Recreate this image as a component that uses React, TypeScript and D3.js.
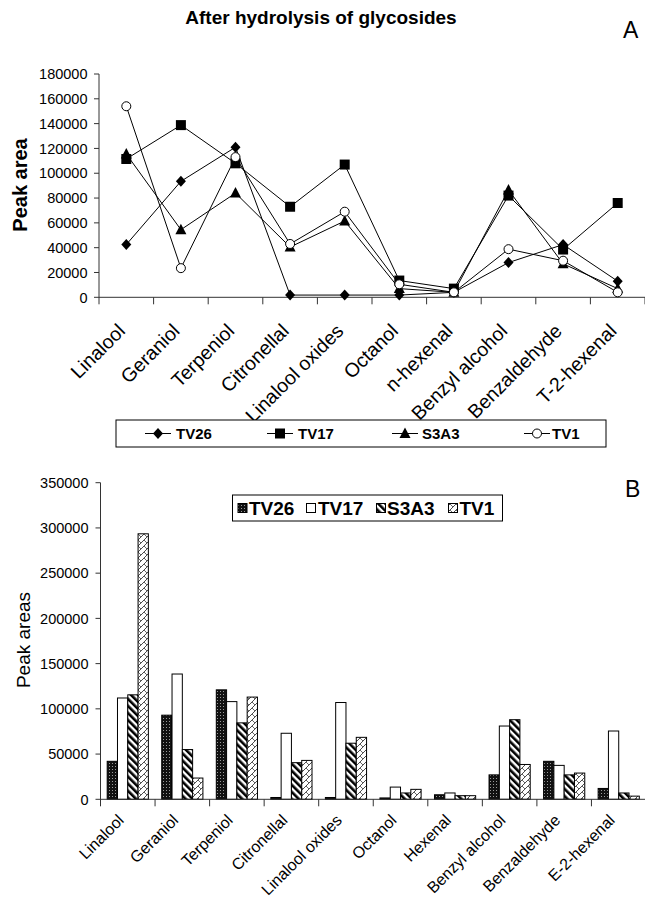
import React from 'react';
import * as d3 from 'd3';

// series
const seriesNames = ['TV26', 'TV17', 'S3A3', 'TV1'];

// panel A (lines)
const categoriesA = ['Linalool', 'Geraniol', 'Terpeniol', 'Citronellal', 'Linalool oxides',
    'Octanol', 'n-hexenal', 'Benzyl alcohol', 'Benzaldehyde', 'T-2-hexenal'];
const tv26A = [42500, 93500, 121000, 1800, 1800, 1800, 4000, 28000, 42500, 13000];
const tv17A = [111500, 138800, 108000, 73000, 107000, 13500, 7000, 82000, 38500, 76000];
const s3a3A = [115500, 54500, 84000, 40500, 61500, 7000, 4000, 86500, 27000, 7000];
const tv1A = [154000, 23500, 113000, 43000, 69000, 10500, 4000, 38800, 29500, 4000];
const ticksA = [0, 20000, 40000, 60000, 80000, 100000, 120000, 140000, 160000, 180000];

// panel B (bars)
const categoriesB = ['Linalool', 'Geraniol', 'Terpeniol', 'Citronellal', 'Linalool oxides',
    'Octanol', 'Hexenal', 'Benzyl alcohol', 'Benzaldehyde', 'E-2-hexenal'];
const tv26B = [42000, 93000, 121000, 2000, 2000, 1500, 5000, 27000, 42000, 12000];
const tv17B = [112000, 138500, 108000, 73000, 107000, 13500, 7000, 81000, 37500, 75500];
const s3a3B = [115500, 55000, 84500, 40500, 62000, 7000, 4000, 88000, 27000, 7000];
const tv1B = [293500, 23500, 113000, 43000, 68500, 11000, 4000, 38500, 29000, 3500];
const ticksB = [0, 50000, 100000, 150000, 200000, 250000, 300000, 350000];

const FONT = '"Liberation Sans", Arial, sans-serif';

function marker(kind: string, x: number, y: number, key?: string) {
    const t = `translate(${x},${y})`;
    if (kind === 'diamond') return <path key={key} transform={t} d="M0,-5.5L5,0L0,5.5L-5,0Z" fill="#000" />;
    if (kind === 'square') return <path key={key} transform={t} d={d3.symbol(d3.symbolSquare, 100)() as string} fill="#000" />;
    if (kind === 'triangle') return <path key={key} transform={t} d="M0,-6L5.5,4.5L-5.5,4.5Z" fill="#000" />;
    return <circle key={key} cx={x} cy={y} r={4.5} fill="#fff" stroke="#000" strokeWidth={1} />;
}

const markerKinds = ['diamond', 'square', 'triangle', 'circle'];
const fills = ['url(#stipple)', '#fff', 'url(#stripes)', 'url(#hatch)'];

export default function App() {
    // ---- panel A
    const xA = d3.scaleBand<string>().domain(categoriesA).range([99, 645]);
    const yA = d3.scaleLinear().domain([0, 180000]).range([297.3, 74]);
    const cxA = (i: number) => (xA(categoriesA[i]) as number) + xA.bandwidth() / 2;
    const lineA = d3.line<number>().x((d, i) => cxA(i)).y(d => yA(d));
    const linesA = [tv26A, tv17A, s3a3A, tv1A];

    // ---- panel B
    const xB = d3.scaleBand<string>().domain(categoriesB).range([100.5, 646]);
    const yB = d3.scaleLinear().domain([0, 350000]).range([799.3, 482.7]);
    const xInner = d3.scaleBand<string>().domain(seriesNames)
        .range([0, xB.bandwidth()]).paddingOuter(0.65);
    const barsB = [tv26B, tv17B, s3a3B, tv1B];

    const legendA = [{ m: 158, t: 176 }, { m: 280, t: 298 }, { m: 405, t: 422 }, { m: 537, t: 552 }];
    const legendB = [{ s: 238, t: 249 }, { s: 306.5, t: 318 }, { s: 376.5, t: 387 }, { s: 448.5, t: 459.5 }];

    return (
        <svg width={645} height={903} style={{ position: 'absolute', left: 0, top: 0, background: '#fff' }}
            fontFamily={FONT}>
            <defs>
                <pattern id="stipple" width={3} height={3} patternUnits="userSpaceOnUse">
                    <rect width={3} height={3} fill="#111" />
                    <rect x={1} y={1} width={1} height={1} fill="#999" />
                </pattern>
                <pattern id="stripes" width={5} height={5} patternUnits="userSpaceOnUse"
                    patternTransform="rotate(-45)">
                    <rect width={5} height={5} fill="#fff" />
                    <rect width={2.6} height={5} fill="#000" />
                </pattern>
                <pattern id="hatch" width={6} height={6} patternUnits="userSpaceOnUse">
                    <rect width={6} height={6} fill="#fff" />
                    <path d="M0,6L6,0M-1,1L1,-1M5,7L7,5" stroke="#000" strokeWidth={0.7} />
                    <path d="M0,0L3,3" stroke="#000" strokeWidth={0.6} />
                </pattern>
            </defs>

            {/* ---------- panel A ---------- */}
            <text x={321} y={24} textAnchor="middle" fontWeight="bold" fontSize={19}>
                After hydrolysis of glycosides
            </text>
            <text x={623} y={38} fontSize={23}>A</text>
            <text transform="translate(27,185) rotate(-90)" textAnchor="middle" fontWeight="bold" fontSize={20}>
                Peak area
            </text>

            <line x1={99} x2={99} y1={yA(180000)} y2={yA(0) + 7} stroke="#333" />
            <line x1={99} x2={645} y1={yA(0)} y2={yA(0)} stroke="#333" />
            {ticksA.map(t => (
                <g key={t}>
                    <line x1={94} x2={99} y1={yA(t)} y2={yA(t)} stroke="#333" />
                    <text x={87.5} y={yA(t)} dy="0.36em" textAnchor="end" fontSize={14.5}>{t}</text>
                </g>
            ))}
            {categoriesA.map(c => (
                <line key={c} x1={(xA(c) as number) + xA.bandwidth()} x2={(xA(c) as number) + xA.bandwidth()}
                    y1={yA(0)} y2={yA(0) + 7} stroke="#333" />
            ))}
            {categoriesA.map((c, i) => (
                <text key={c} transform={`translate(${cxA(i)},${yA(0) + 35}) rotate(-45)`}
                    textAnchor="end" fontSize={19.5}>{c}</text>
            ))}

            {linesA.map((vals, s) => (
                <g key={s}>
                    <path d={lineA(vals) as string} fill="none" stroke="#000" strokeWidth={1} />
                    {vals.map((v, i) => marker(markerKinds[s], cxA(i), yA(v), `${s}-${i}`))}
                </g>
            ))}

            <rect x={116} y={420} width={490} height={27} fill="#fff" stroke="#000" />
            {seriesNames.map((n, i) => (
                <g key={n}>
                    <line x1={legendA[i].m - 13} x2={legendA[i].m + 13} y1={433.5} y2={433.5} stroke="#000" />
                    {marker(markerKinds[i], legendA[i].m, 433.5)}
                    <text x={legendA[i].t} y={439} fontWeight="bold" fontSize={15}>{n}</text>
                </g>
            ))}

            {/* ---------- panel B ---------- */}
            <text x={625} y={497} fontSize={23}>B</text>
            <text transform="translate(30,640) rotate(-90)" textAnchor="middle" fontSize={19}>Peak areas</text>

            {barsB.map((vals, s) => (
                <g key={s}>
                    {vals.map((v, i) => (
                        <rect key={i}
                            x={(xB(categoriesB[i]) as number) + (xInner(seriesNames[s]) as number)}
                            y={yB(v)} width={xInner.bandwidth()} height={yB(0) - yB(v)}
                            fill={fills[s]} stroke="#000" strokeWidth={1} />
                    ))}
                </g>
            ))}

            <line x1={100.5} x2={100.5} y1={yB(350000)} y2={yB(0) + 7} stroke="#333" />
            <line x1={100.5} x2={645} y1={yB(0)} y2={yB(0)} stroke="#333" />
            {ticksB.map(t => (
                <g key={t}>
                    <line x1={95.5} x2={100.5} y1={yB(t)} y2={yB(t)} stroke="#333" />
                    <text x={88.5} y={yB(t)} dy="0.36em" textAnchor="end" fontSize={14.5}>{t}</text>
                </g>
            ))}
            {categoriesB.map(c => (
                <line key={c} x1={(xB(c) as number) + xB.bandwidth()} x2={(xB(c) as number) + xB.bandwidth()}
                    y1={yB(0)} y2={yB(0) + 7} stroke="#333" />
            ))}
            {categoriesB.map(c => (
                <text key={c}
                    transform={`translate(${(xB(c) as number) + xB.bandwidth() / 2 - 3},${yB(0) + 22}) rotate(-45)`}
                    textAnchor="end" fontSize={16}>{c}</text>
            ))}

            <rect x={232.5} y={495} width={270} height={26} fill="#fff" stroke="#000" />
            {seriesNames.map((n, i) => (
                <g key={n}>
                    <rect x={legendB[i].s} y={503.5} width={9} height={9} fill={fills[i]} stroke="#000" />
                    <text x={legendB[i].t} y={515} fontWeight="bold" fontSize={19}>{n}</text>
                </g>
            ))}
        </svg>
    );
}
